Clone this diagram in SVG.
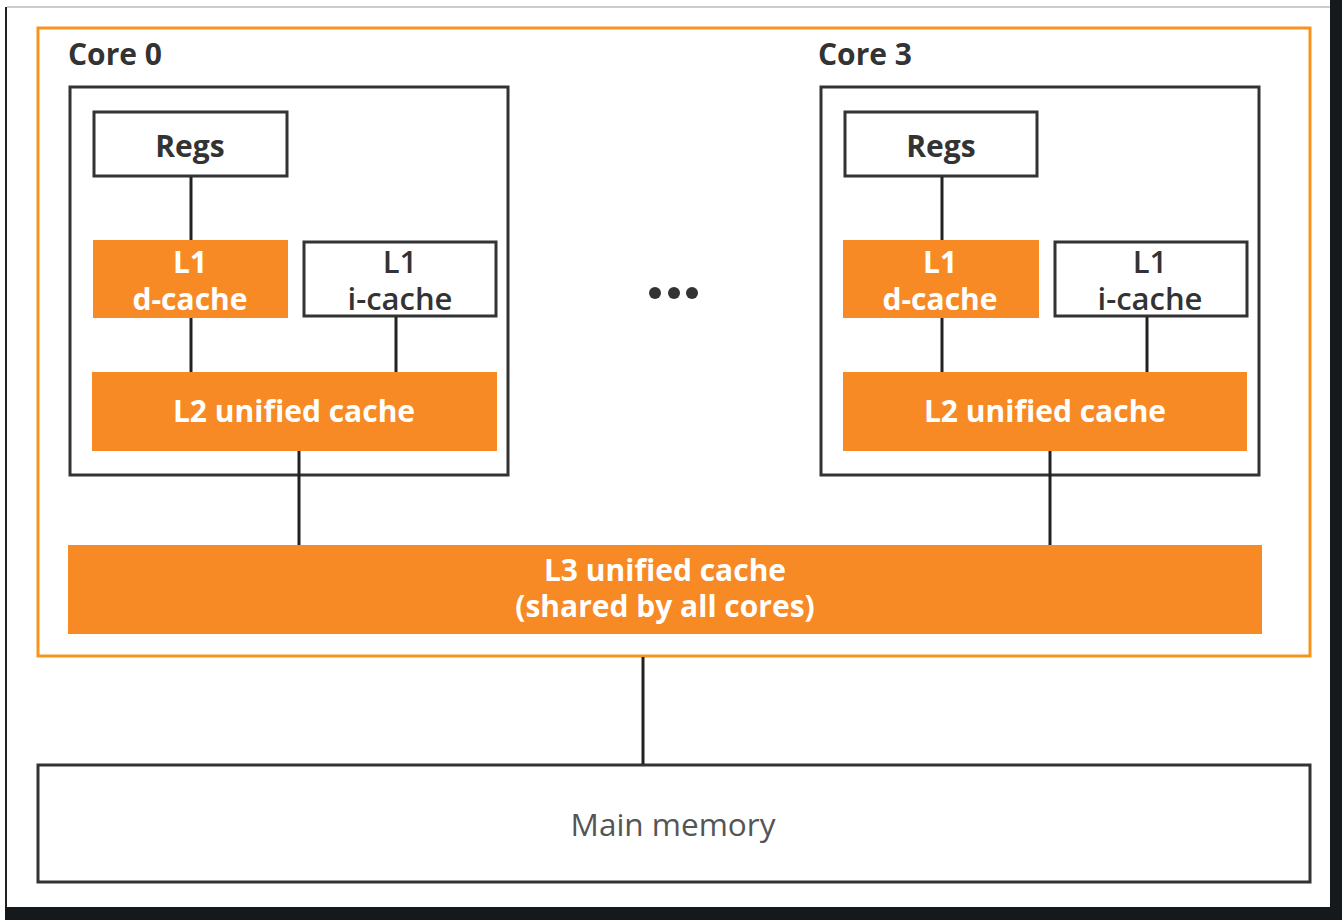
<svg xmlns="http://www.w3.org/2000/svg" width="1342" height="920" viewBox="0 0 1342 920">
<style>
.box{fill:#fff;stroke:#333;stroke-width:3}
.frame{fill:none;stroke:#333;stroke-width:3}
.orange{fill:#F78A25}
.line{stroke:#222;stroke-width:3;fill:none}
.t{font-family:"Open Sans","Noto Sans","Liberation Sans",sans-serif;font-weight:700;font-size:30px;text-anchor:middle}
.s{font-weight:600;font-size:31px}
.dark{fill:#333}
.white{fill:#fff}
</style>
<rect x="0" y="0" width="1342" height="920" fill="#fff"/>
<line x1="7" y1="7" x2="1330" y2="7" stroke="#ccc" stroke-width="2"/>
<line x1="6" y1="7" x2="6" y2="907" stroke="#222" stroke-width="2"/>
<rect x="1330" y="0" width="12" height="920" fill="#15191b"/>
<rect x="5" y="907" width="1337" height="13" fill="#15191b"/>
<g id="chip">
<rect x="38" y="28" width="1272" height="628" fill="none" stroke="#F7941D" stroke-width="3"/>
</g>
<g id="core0">
<text class="t dark" x="68" y="65" style="text-anchor:start">Core 0</text>
<rect class="frame" x="70" y="87" width="438" height="388"/>
</g>
<g id="core0-regs">
<rect class="box" x="94" y="112" width="193" height="64"/>
<text class="t dark" x="190" y="157">Regs</text>
</g>
<g id="core0-l1d">
<rect class="orange" x="93" y="240" width="195" height="78"/>
<text class="t white" x="190" y="273">L1</text>
<text class="t white" x="190" y="310">d-cache</text>
</g>
<g id="core0-l1i">
<rect class="box" x="304" y="242" width="192" height="74"/>
<text class="t s dark" x="400" y="273">L1</text>
<text class="t s dark" x="400" y="310">i-cache</text>
</g>
<g id="core0-l2">
<rect class="orange" x="92" y="372" width="405" height="79"/>
<text class="t white" x="294" y="422">L2 unified cache</text>
</g>
<g id="core3">
<text class="t dark" x="818" y="65" style="text-anchor:start">Core 3</text>
<rect class="frame" x="821" y="87" width="438" height="388"/>
</g>
<g id="core3-regs">
<rect class="box" x="845" y="112" width="192" height="64"/>
<text class="t dark" x="941" y="157">Regs</text>
</g>
<g id="core3-l1d">
<rect class="orange" x="843" y="240" width="196" height="78"/>
<text class="t white" x="940" y="273">L1</text>
<text class="t white" x="940" y="310">d-cache</text>
</g>
<g id="core3-l1i">
<rect class="box" x="1055" y="242" width="192" height="74"/>
<text class="t s dark" x="1150" y="273">L1</text>
<text class="t s dark" x="1150" y="310">i-cache</text>
</g>
<g id="core3-l2">
<rect class="orange" x="843" y="372" width="404" height="79"/>
<text class="t white" x="1045" y="422">L2 unified cache</text>
</g>
<g id="ellipsis">
<circle cx="655" cy="293" r="6" fill="#333"/>
<circle cx="674" cy="293" r="6" fill="#333"/>
<circle cx="692" cy="293" r="6" fill="#333"/>
</g>
<g id="l3">
<rect class="orange" x="68" y="545" width="1194" height="89"/>
<text class="t white" x="665" y="581">L3 unified cache</text>
<text class="t white" x="665" y="617">(shared by all cores)</text>
</g>
<g id="main-memory">
<rect class="box" x="38" y="765" width="1272" height="117"/>
<text x="673" y="836" font-size="31.5" fill="#555" text-anchor="middle" font-family="'Open Sans','Noto Sans','Liberation Sans',sans-serif">Main memory</text>
</g>
<g id="connectors">
<line class="line" x1="191" y1="177" x2="191" y2="240"/>
<line class="line" x1="191" y1="318" x2="191" y2="372"/>
<line class="line" x1="396" y1="317" x2="396" y2="372"/>
<line class="line" x1="299" y1="451" x2="299" y2="545"/>
<line class="line" x1="942" y1="177" x2="942" y2="240"/>
<line class="line" x1="942" y1="318" x2="942" y2="372"/>
<line class="line" x1="1147" y1="317" x2="1147" y2="372"/>
<line class="line" x1="1050" y1="451" x2="1050" y2="545"/>
<line class="line" x1="643" y1="657" x2="643" y2="764"/>
</g>
</svg>
